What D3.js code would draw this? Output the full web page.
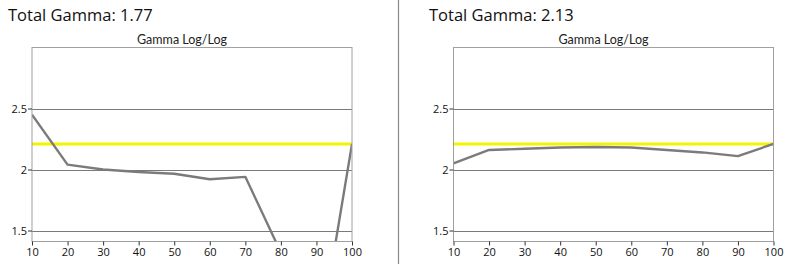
<!DOCTYPE html>
<html><head><meta charset="utf-8">
<script src="https://cdn.jsdelivr.net/npm/d3@7"></script>
<style>body{margin:0;background:#fff}svg{display:block}</style></head>
<body>
<svg id="c" width="792" height="264"></svg>
<script>
const xValues = [10, 20, 30, 40, 50, 60, 70, 80, 90, 100];
const leftGamma = [2.45, 2.04, 2.00, 1.98, 1.965, 1.92, 1.94, 1.32, 0.46, 2.21];
const rightGamma = [2.05, 2.16, 2.17, 2.18, 2.185, 2.18, 2.16, 2.14, 2.11, 2.21];
const totalLabels = ["Total Gamma: 1.77", "Total Gamma: 2.13"];
const chartTitle = "Gamma Log/Log";
const targetGamma = 2.21;
const yTickValues = [1.5, 2, 2.5];
const xTickValues = [10, 20, 30, 40, 50, 60, 70, 80, 90, 100];

const svg = d3.select("#c");
const panels = [
  {series: leftGamma, label: totalLabels[0], x0: 32, x1: 352, tx: 8},
  {series: rightGamma, label: totalLabels[1], x0: 453.5, x1: 773.5, tx: 429}
];

// divider
svg.append("line").attr("x1", 398.5).attr("x2", 398.5).attr("y1", 0).attr("y2", 264)
  .attr("stroke", "#8a8a8a").attr("stroke-width", 1.2);

panels.forEach((p, i) => {
  const x = d3.scaleLinear().domain([10, 100]).range([p.x0, p.x1]);
  const y = d3.scaleLinear().domain([1.41, 3.0]).range([241.5, 47.5]);
  const g = svg.append("g");

  g.append("text").attr("x", p.tx).attr("y", 20.5)
    .attr("font-family", "Open Sans").attr("font-size", 16.5).attr("fill", "#111")
    .text(p.label);

  g.append("text").attr("x", (p.x0 + p.x1) / 2 - 10).attr("y", 43.5)
    .attr("text-anchor", "middle")
    .attr("font-family", "Lato").attr("font-size", 12.5).attr("fill", "#222")
    .text(chartTitle);

  const clipId = "clip" + i;
  svg.append("clipPath").attr("id", clipId).append("rect")
    .attr("x", p.x0).attr("y", 47.5).attr("width", p.x1 - p.x0).attr("height", 194);

  // gridlines
  g.selectAll(".grid").data(yTickValues).join("line")
    .attr("x1", p.x0).attr("x2", p.x1)
    .attr("y1", d => Math.round(y(d)) + 0.5).attr("y2", d => Math.round(y(d)) + 0.5)
    .attr("stroke", "#7a7a7a").attr("stroke-width", 1);

  // target line
  g.append("line").attr("x1", p.x0).attr("x2", p.x1)
    .attr("y1", y(targetGamma)).attr("y2", y(targetGamma))
    .attr("stroke", "#f4f400").attr("stroke-width", 3);

  // data line
  g.append("path").datum(p.series)
    .attr("clip-path", `url(#${clipId})`)
    .attr("fill", "none").attr("stroke", "#7b7b7b").attr("stroke-width", 2.4)
    .attr("stroke-linejoin", "round")
    .attr("d", d3.line().x((d, j) => x(xValues[j])).y(d => y(d)));

  // border
  g.append("rect").attr("x", p.x0).attr("y", 47.5)
    .attr("width", p.x1 - p.x0).attr("height", 194)
    .attr("fill", "none").attr("stroke", "#a0a0a0").attr("stroke-width", 1);

  // axes
  const yAxis = d3.axisLeft(y).tickValues(yTickValues).tickSize(4).tickPadding(1)
    .tickFormat(d3.format("~g"));
  const ya = g.append("g").attr("transform", `translate(${p.x0},0)`).call(yAxis);
  ya.select(".domain").remove();
  ya.selectAll("text").attr("font-family", "Open Sans").attr("font-size", 11).attr("fill", "#111");
  ya.selectAll("line").attr("stroke", "#333");

  const xAxis = d3.axisBottom(x).tickValues(xTickValues).tickSize(4).tickPadding(3);
  const xa = g.append("g").attr("transform", `translate(0,241.5)`).call(xAxis);
  xa.select(".domain").remove();
  xa.selectAll("text").attr("font-family", "Open Sans").attr("font-size", 11).attr("fill", "#111");
  xa.selectAll("line").attr("stroke", "#333");
});
</script>
</body></html>
